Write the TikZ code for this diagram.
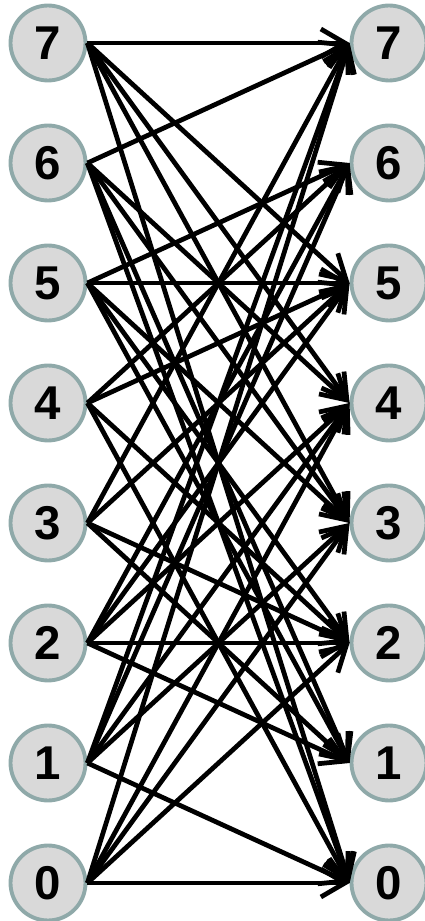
\documentclass[tikz,border=0pt]{standalone}
\usepackage{fontspec}
\setmainfont{Liberation Sans}
\usetikzlibrary{arrows.meta}

\definecolor{knotenrand}{HTML}{8FA9A9}
\definecolor{knotenfill}{HTML}{D9D9D9}

\begin{document}
\begin{tikzpicture}[
  x=0.02cm, y=0.02cm,
  knoten/.style={circle, draw=knotenrand, line width=2.2pt, fill=knotenfill,
                 minimum size=1.5cm, inner sep=0pt,
                 font=\fontsize{27}{27}\selectfont\bfseries},
  kante/.style={line width=2.7pt, black,
                -{Straight Barb[length=4.8mm, width=5.6mm, line width=2.7pt]}}]
  \useasboundingbox (0,0) rectangle (425,921);
  % Knoten links und rechts
  \foreach \k in {0,...,7} {
    \node[knoten] (l\k) at (48, 38+120*\k)  {\k};
    \node[knoten] (r\k) at (389, 38+120*\k) {\k};
  }
  % Kanten
  \foreach \a/\b in {7/7, 7/0, 7/5, 7/4, 7/3,
                     6/7, 6/0, 6/4, 6/3, 6/1,
                     5/6, 5/5, 5/3, 5/2, 5/1,
                     4/6, 4/5, 4/2, 4/0,
                     3/7, 3/5, 3/2, 3/1,
                     2/6, 2/5, 2/4, 2/2, 2/1,
                     1/7, 1/6, 1/4, 1/3, 1/0,
                     0/7, 0/4, 0/3, 0/2, 0/0}
    \draw[kante] (l\a.east) -- (r\b.west);
\end{tikzpicture}
\end{document}
